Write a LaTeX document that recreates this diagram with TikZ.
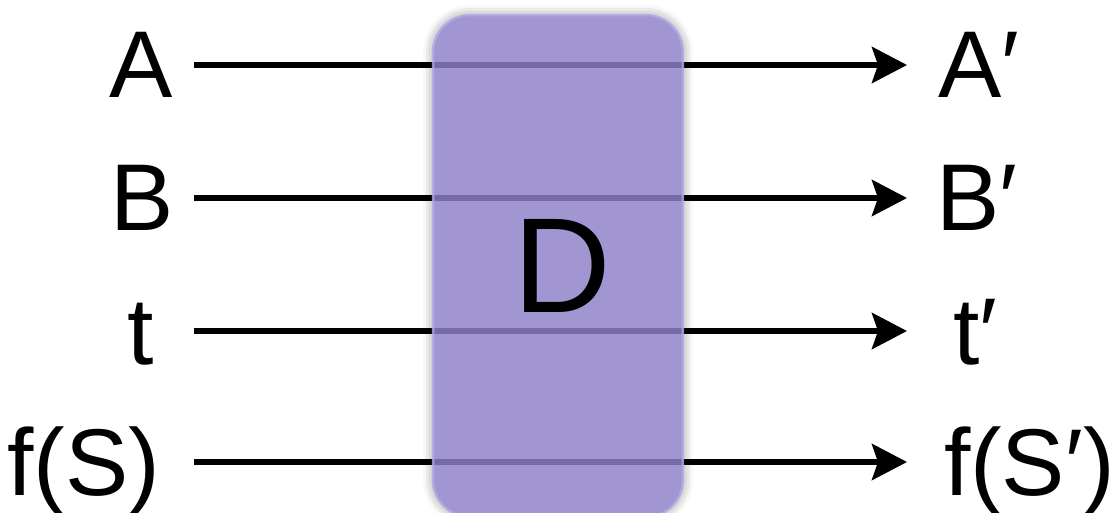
\documentclass[tikz,border=0pt]{standalone}
\usepackage{fontspec}
\setmainfont{Liberation Sans}
\usepackage{tikz}
\usetikzlibrary{arrows.meta,shadows.blur}
\definecolor{boxc}{HTML}{8E80CA}
\definecolor{rimc}{HTML}{B4ACE6}
\tikzset{
  ar/.style={-{Stealth[length=0.7cm,width=0.72cm,inset=0.12cm]},line width=0.12cm,black},
  lbl/.style={inner sep=0pt,outer sep=0pt,text height=1.32cm,text depth=0pt,font=\fontsize{54}{60}\selectfont},
  blkshape/.style={rounded corners=0.74cm,minimum width=5cm,minimum height=10.04cm,inner sep=0pt},
  blkback/.style={blkshape,fill=white,
    blur shadow={shadow xshift=0pt,shadow yshift=0pt,shadow blur radius=0.2cm,shadow opacity=45}},
  blk/.style={blkshape,draw=rimc,line width=0.05cm,fill=boxc,fill opacity=0.83,draw opacity=0.8}
}
\begin{document}
\begin{tikzpicture}[x=0.02cm,y=-0.02cm]
\useasboundingbox (0,0) rectangle (1119,513);
% glow behind the box
\node[blkback] (boxbg) at (558,266) {};
% inputs
\node[lbl,anchor=base east] (A) at (173,98) {A};
\node[lbl,anchor=base east] (B) at (174,231) {B};
\node[lbl,anchor=base east] (t) at (154,364) {t};
\node[lbl,anchor=base east] (fS) at (160,495) {f(S)};
% outputs
\node[lbl,anchor=base west] (Ao) at (938,98) {A′};
\node[lbl,anchor=base west] (Bo) at (936,231) {B′};
\node[lbl,anchor=base west] (to) at (953,364) {t′};
\node[lbl,anchor=base west] (fSo) at (944,495) {f(S′)};
\draw[ar,shorten <=0.42cm,shorten >=0.62cm] (A.east)--(Ao.west);
\draw[ar,shorten <=0.40cm,shorten >=0.58cm] (B.east)--(Bo.west);
\draw[ar,shorten <=0.80cm,shorten >=0.92cm] (t.east)--(to.west);
\draw[ar,shorten <=0.68cm,shorten >=0.74cm] (fS.east)--(fSo.west);
% the box
\node[blk] (box) at (558,266) {};
\node[inner sep=0pt,font=\fontsize{77}{80}\selectfont] (D) at (562,266) {D};
\end{tikzpicture}
\end{document}
